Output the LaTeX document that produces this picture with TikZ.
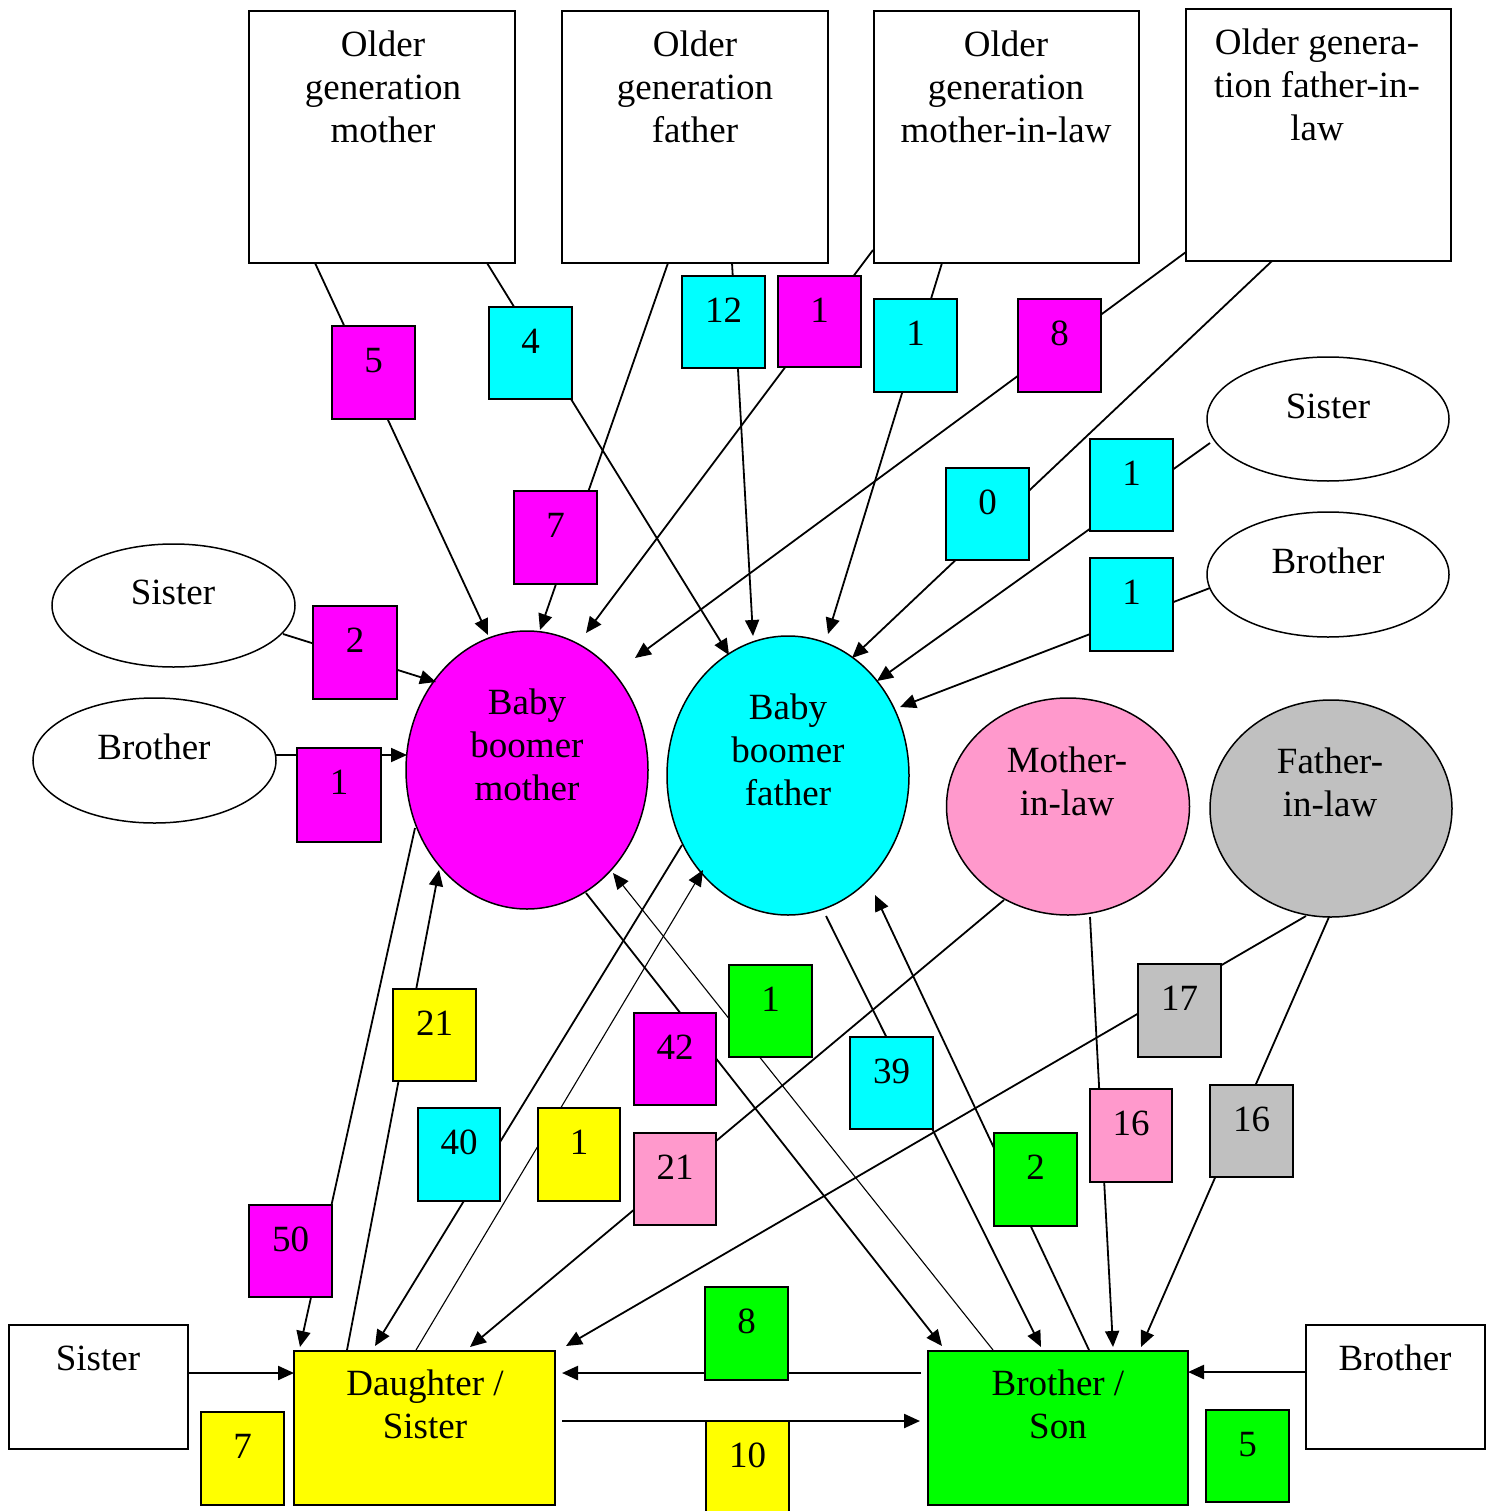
\documentclass[tikz,border=0pt]{standalone}
\usepackage{fontspec}
\setmainfont{Liberation Serif}
\usetikzlibrary{arrows.meta,calc,shapes.geometric}
\definecolor{cmag}{HTML}{FF00FF}
\definecolor{ccyan}{HTML}{00FFFF}
\definecolor{cyel}{HTML}{FFFF00}
\definecolor{cgrn}{HTML}{00FF00}
\definecolor{cpink}{HTML}{FF99CC}
\definecolor{cgray}{HTML}{C0C0C0}
\newcommand\dfont{\fontsize{37}{43}\selectfont}
\tikzset{
  lb/.style={draw=black, line width=1.5pt, rectangle, inner sep=0pt, outer sep=0pt},
  tx/.style={anchor=base, inner sep=0pt, outer sep=0pt, font=\dfont},
  ell/.style={draw=black, ellipse, line width=1.5pt, inner sep=0pt, outer sep=0pt},
  con/.style={line width=1.8pt},
  thincon/.style={line width=1.1pt},
  arr/.style={-{Triangle[length=16pt,width=14pt]}},
}
\newcommand\rbox[6]{\node[lb, fill=#2, minimum width={#5-#3}, minimum height={#6-#4}, anchor=north west] (#1) at (#3,#4) {};}
\newcommand\lbox[7]{\rbox{#1}{#2}{#3}{#4}{#5}{#6}\node[tx] at ($(#1.north)+(0,46)$) {#7};}
\newcommand\btext[3]{\node[tx] at (#1,#2) {\parbox[t]{400pt}{\centering\dfont #3}};}
\begin{document}
\begin{tikzpicture}[x=1pt,y=-1pt]
\useasboundingbox (0,0) rectangle (1495,1511);
% ---------- main shapes ----------
\rbox{ogm}{white}{249}{11}{515}{263}
\rbox{ogf}{white}{562}{11}{828}{263}
\rbox{ogmil}{white}{874}{11}{1139}{263}
\rbox{ogfil}{white}{1186}{9}{1451}{261}
\rbox{sisW}{white}{9}{1325}{188}{1449}
\rbox{dau}{cyel}{294}{1351}{555}{1505}
\rbox{bson}{cgrn}{928}{1351}{1188}{1505}
\rbox{broW}{white}{1306}{1325}{1485}{1449}
\node[ell, fill=white, minimum width=243, minimum height=123] (sisL) at (173.5,605.5) {};
\node[ell, fill=white, minimum width=243, minimum height=125] (broL) at (154.5,760.5) {};
\node[ell, fill=white, minimum width=242, minimum height=124] (sisR) at (1328,419) {};
\node[ell, fill=white, minimum width=242, minimum height=125] (broR) at (1328,574.5) {};
\node[ell, fill=cmag, minimum width=242, minimum height=278] (bbm) at (527,770) {};
\node[ell, fill=ccyan, minimum width=242, minimum height=279] (bbf) at (788,775.5) {};
\node[ell, fill=cpink, minimum width=243, minimum height=217] (mil) at (1068,806.5) {};
\node[ell, fill=cgray, minimum width=242, minimum height=217] (fil) at (1331,808.5) {};
% ---------- texts ----------
\btext{383}{57}{Older\\generation\\mother}
\btext{695}{57}{Older\\generation\\father}
\btext{1006}{57}{Older\\generation\\mother-in-law}
\btext{1317}{55}{Older genera-\\tion father-in-\\law}
\btext{173}{604}{Sister}
\btext{154}{759}{Brother}
\btext{1328}{418}{Sister}
\btext{1328}{573}{Brother}
\btext{527}{714}{Baby\\boomer\\mother}
\btext{788}{719}{Baby\\boomer\\father}
\btext{1067}{772}{Mother-\\in-law}
\btext{1330}{773}{Father-\\in-law}
\btext{98}{1370}{Sister}
\btext{425}{1395}{Daughter /\\Sister}
\btext{1058}{1395}{Brother /\\Son}
\btext{1395}{1370}{Brother}
% ---------- connector end points ----------
\coordinate (a1) at (315,263);   \coordinate (b1) at (488,635);
\coordinate (a2) at (487,263);   \coordinate (b2) at (729,655);
\coordinate (a3) at (668,263);   \coordinate (b3) at (540,630);
\coordinate (a4) at (732,263);   \coordinate (b4) at (753,636);
\coordinate (a5) at (873,250);   \coordinate (b5) at (586,633);
\coordinate (a6) at (942,263);   \coordinate (b6) at (828,634);
\coordinate (a7) at (1186,252);  \coordinate (b7) at (635,658);
\coordinate (a8) at (1272,261);  \coordinate (b8) at (852,658);
\coordinate (a9) at (1210,443);  \coordinate (b9) at (877,681);
\coordinate (a10) at (1210,588); \coordinate (b10) at (900,707);
\coordinate (a11) at (283,634);  \coordinate (b11) at (436,682);
\coordinate (a12) at (276,755);  \coordinate (b12) at (407,755);
\coordinate (a13) at (415,828);  \coordinate (b13) at (300,1347);
\coordinate (a14) at (347,1350); \coordinate (b14) at (439,870);
\coordinate (a15) at (682,845);  \coordinate (b15) at (375,1346);
\coordinate (a16) at (416,1350); \coordinate (b16) at (703,870);
\coordinate (a17) at (586,893);  \coordinate (b17) at (942,1346);
\coordinate (a18) at (993,1350); \coordinate (b18) at (613,873);
\coordinate (a19) at (826,916);  \coordinate (b19) at (1041,1347);
\coordinate (a20) at (1089,1350);\coordinate (b20) at (875,895);
\coordinate (a21) at (1004,900); \coordinate (b21) at (470,1347);
\coordinate (a22) at (1090,917); \coordinate (b22) at (1113,1347);
\coordinate (a23) at (1306,916); \coordinate (b23) at (566,1346);
\coordinate (a24) at (1329,917); \coordinate (b24) at (1141,1347);
\coordinate (a27) at (921,1373); \coordinate (b27) at (562,1373);
\coordinate (a28) at (562,1421); \coordinate (b28) at (920,1421);
% ---------- connectors ----------
\foreach \i in {1,...,15,17,19,20,21,22,23,24}{\draw[con,arr] (a\i) -- (b\i);}
\draw[thincon,arr] (a16) -- (b16);
\draw[thincon,arr] (a18) -- (b18);
\draw[con,line width=2.3pt,arr] (sisW.east |- 0,1373) -- (dau.west |- 0,1373);
\draw[con,line width=2.3pt,arr] (broW.west |- 0,1372) -- (bson.east |- 0,1372);
\draw[con,line width=2.3pt,arr] (a27) -- (b27);
\draw[con,line width=2.3pt,arr] (a28) -- (b28);
% ---------- label boxes ----------
\lbox{n5}{cmag}{332}{326}{415}{419}{5}
\lbox{n4}{ccyan}{489}{307}{572}{399}{4}
\lbox{n12}{ccyan}{682}{276}{765}{368}{12}
\lbox{n1a}{cmag}{778}{276}{861}{367}{1}
\lbox{n1b}{ccyan}{874}{299}{957}{392}{1}
\lbox{n8a}{cmag}{1018}{299}{1101}{392}{8}
\lbox{n7a}{cmag}{514}{491}{597}{584}{7}
\lbox{n0}{ccyan}{946}{468}{1029}{560}{0}
\lbox{n1c}{ccyan}{1090}{439}{1173}{531}{1}
\lbox{n1d}{ccyan}{1090}{558}{1173}{651}{1}
\lbox{n2a}{cmag}{313}{606}{397}{699}{2}
\lbox{n1e}{cmag}{297}{748}{381}{842}{1}
\lbox{n21a}{cyel}{393}{989}{476}{1081}{21}
\lbox{n42}{cmag}{634}{1013}{716}{1105}{42}
\lbox{n1f}{cgrn}{729}{965}{812}{1057}{1}
\lbox{n39}{ccyan}{850}{1037}{933}{1129}{39}
\lbox{n17}{cgray}{1138}{964}{1221}{1057}{17}
\lbox{n40}{ccyan}{418}{1108}{500}{1201}{40}
\lbox{n1g}{cyel}{538}{1108}{620}{1201}{1}
\lbox{n21b}{cpink}{634}{1133}{716}{1225}{21}
\lbox{n2b}{cgrn}{994}{1133}{1077}{1226}{2}
\lbox{n16a}{cpink}{1090}{1089}{1172}{1182}{16}
\lbox{n16b}{cgray}{1210}{1085}{1293}{1177}{16}
\lbox{n50}{cmag}{249}{1205}{332}{1297}{50}
\lbox{n8b}{cgrn}{705}{1287}{788}{1380}{8}
\lbox{n7b}{cyel}{201}{1412}{284}{1505}{7}
\lbox{n10}{cyel}{706}{1421}{789}{1520}{10}
\lbox{n5b}{cgrn}{1206}{1410}{1289}{1502}{5}
\end{tikzpicture}
\end{document}
